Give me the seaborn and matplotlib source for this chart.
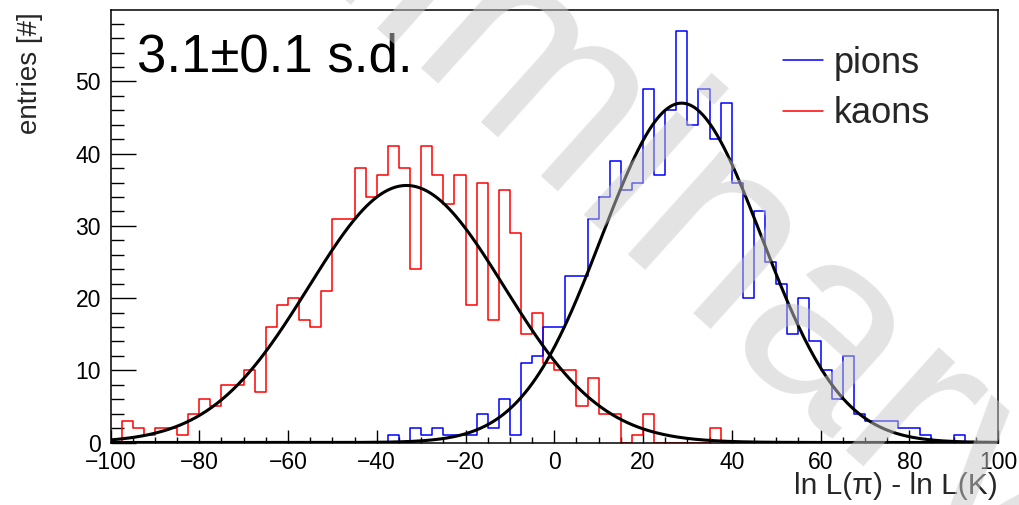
import numpy as np
import pandas as pd
import matplotlib
matplotlib.use("Agg")
import matplotlib.pyplot as plt
import seaborn as sns
from matplotlib.ticker import MultipleLocator
from matplotlib.lines import Line2D

# ---------------- data ----------------
x_range = (-100, 100)
n_bins = 80

kaon_counts = [0, 3, 2, 1, 2, 2, 1, 4, 6, 5,
               8, 8, 10, 7, 16, 19, 20, 17, 16, 21,
               31, 31, 38, 34, 37, 41, 38, 24, 41, 37,
               33, 37, 19, 36, 17, 35, 29, 15, 18, 11,
               10, 10, 5, 9, 4, 4, 0, 1, 4, 0,
               0, 0, 0, 0, 2, 0, 0, 0, 0, 0,
               0, 0, 0, 0, 0, 0, 0, 0, 0, 0,
               0, 0, 0, 0, 0, 0, 0, 0, 0, 0]

pion_counts = [0, 0, 0, 0, 0, 0, 0, 0, 0, 0,
               0, 0, 0, 0, 0, 0, 0, 0, 0, 0,
               0, 0, 0, 0, 0, 1, 0, 2, 1, 2,
               1, 1, 1, 4, 2, 6, 1, 11, 12, 16,
               16, 23, 23, 31, 34, 39, 35, 36, 49, 37,
               46, 57, 44, 49, 42, 47, 36, 20, 32, 25,
               22, 15, 20, 14, 10, 6, 12, 4, 3, 3,
               3, 2, 2, 1, 0, 0, 1, 0, 0, 0]

# Gaussian fit parameters (amplitude, mean, sigma)
kaon_fit = (35.6, -33.3, 22.0)
pion_fit = (47.0, 28.7, 18.0)

labels = ["pions", "kaons"]
title_text = "3.1\u00b10.1 s.d."
xlabel = "ln L(\u03c0) - ln L(K)"
ylabel = "entries [#]"
watermark = "Preliminary"

# ---------------- style ----------------
sns.set_theme(style="white")
plt.rcParams["font.family"] = ["Liberation Sans", "DejaVu Sans"]
plt.rcParams["axes.unicode_minus"] = True

W, H, DPI = 1019, 505, 100
fig = plt.figure(figsize=(W / DPI, H / DPI), dpi=DPI)
L, R, T, B = 110.5, 998.0, 10.0, 442.5
ax = fig.add_axes([L / W, 1 - B / H, (R - L) / W, (B - T) / H])

edges = np.linspace(x_range[0], x_range[1], n_bins + 1)
centers = 0.5 * (edges[:-1] + edges[1:])

kaon_df = pd.DataFrame({"x": centers, "n": kaon_counts})
pion_df = pd.DataFrame({"x": centers, "n": pion_counts})

sns.histplot(data=kaon_df, x="x", weights="n", bins=list(edges), element="step",
             fill=False, color="#ff0000", linewidth=1.1, ax=ax, zorder=2)
sns.histplot(data=pion_df, x="x", weights="n", bins=list(edges), element="step",
             fill=False, color="#0000ff", linewidth=1.1, ax=ax, zorder=2)

xs = np.linspace(x_range[0], x_range[1], 500)
for (a, m, s) in (kaon_fit, pion_fit):
    ys = a * np.exp(-0.5 * ((xs - m) / s) ** 2)
    sns.lineplot(x=xs, y=ys, color="black", linewidth=2.2, estimator=None,
                 ax=ax, zorder=3)

ax.set_xlim(*x_range)
ax.set_ylim(0, 59.9)

ax.xaxis.set_major_locator(MultipleLocator(20))
ax.xaxis.set_minor_locator(MultipleLocator(5))
ax.yaxis.set_major_locator(MultipleLocator(10))
ax.yaxis.set_minor_locator(MultipleLocator(2))
ax.tick_params(axis="both", which="both", direction="in", colors="black",
               labelsize=16.5, width=1.0, top=False, right=False,
               bottom=True, left=True)
ax.tick_params(axis="x", which="major", length=9.5, pad=6)
ax.tick_params(axis="x", which="minor", length=4.5)
ax.tick_params(axis="y", which="major", length=18, pad=7)
ax.tick_params(axis="y", which="minor", length=9)

for sp in ax.spines.values():
    sp.set_visible(True)
    sp.set_color("black")
    sp.set_linewidth(1.1)

ax.set_xlabel(xlabel, fontsize=21.5, loc="right")
ax.xaxis.label.set(ha="right", va="top")
ax.xaxis.set_label_coords(1.0, (B - 472) / (B - T))

ax.set_ylabel(ylabel, fontsize=20)
ax.yaxis.label.set(rotation_mode="default", ha="center", va="top")
ax.yaxis.set_label_coords((30 - L) / (R - L), 1 - 2 / (B - T))

ax.text((137 - L) / (R - L), (B - 72) / (B - T), title_text,
        transform=ax.transAxes, fontsize=38, ha="left", va="baseline",
        color="black")

handles = [Line2D([], [], color="#0000ff", lw=1.1),
           Line2D([], [], color="#ff0000", lw=1.1)]
ax.legend(handles, labels, loc="upper left",
          bbox_to_anchor=((783 - L) / (R - L), (B - 46) / (B - T)),
          frameon=False, fontsize=26, handlelength=1.1,
          handletextpad=0.3, labelspacing=0.42, borderaxespad=0,
          borderpad=0)

fig.text(545 / W, 1 - 108 / H, watermark, fontsize=190, rotation=-42,
         rotation_mode="anchor", ha="center", va="center",
         color="#c8c8c8", alpha=0.5, zorder=10)

fig.savefig("out.png", dpi=DPI)
